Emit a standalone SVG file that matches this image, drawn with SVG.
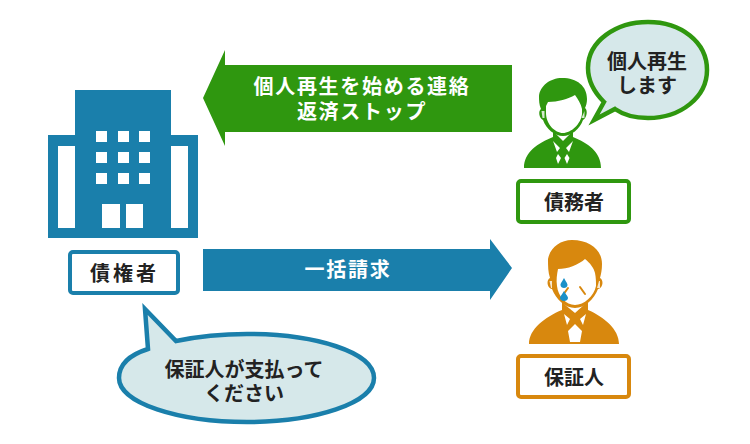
<svg xmlns="http://www.w3.org/2000/svg" width="750" height="444" viewBox="0 0 750 444">
<style>
text{font-family:"Noto Sans CJK JP","Liberation Sans",sans-serif;font-weight:700;text-anchor:middle;fill:#222;font-size:20px}
.arr{fill:#fff;letter-spacing:1.7px}
.box{fill:#fff;stroke-width:4}
.blue{fill:#1a7fab}.green{fill:#2f970f}.orange{fill:#d8880e}.white{fill:#fff}
.bub{fill:#d6e8ea;stroke-width:4.5;stroke-linejoin:miter}
</style>
<g id="connectors">
<path class="green" d="M203 98 225 50V65H512V132H225V146Z"/>
<text class="arr" y="94"><tspan x="362">個人再生を始める連絡</tspan><tspan x="362" dy="25">返済ストップ</tspan></text>
<path class="blue" d="M203 249H490V239L512 268 490 300V291H203Z"/>
<text class="arr" x="348" y="277">一括請求</text>
</g>
<g id="creditor">
<path class="blue" d="M75 90H171V135H198V238H48V135H75Z"/>
<path class="white" d="M58 146H75V228H58ZM171 146H188V228H171ZM102 204H120V228H102ZM126 204H143V228H126Z"/>
<path class="white" d="M96 131h11v11H96ZM118 131h11v11H118ZM139 131h11v11H139ZM96 152h11v11H96ZM118 152h11v11H118ZM139 152h11v11H139ZM96 173h11v11H96ZM118 173h11v11H118ZM139 173h11v11H139Z"/>
<rect class="box" x="70" y="252" width="108" height="41" rx="3" stroke="#1a7fab"/>
<text x="124.500" y="281" style="letter-spacing:3px">債権者</text>
</g>
<g id="creditor-bubble">
<path class="bub" stroke="#1a7fab" d="M145 309 176 341C200 336 225 334 247 334 315 334 374 352 374 378 374 403 315 422 247 422 178 422 119 403 119 378 119 364 129 355 148 349Z"/>
<text y="377"><tspan x="244">保証人が支払って</tspan><tspan x="244" dy="24">ください</tspan></text>
</g>
<g id="debtor">
<path class="green" d="M524 168C524 152 538 143 553 137V130H573V137C588 143 601 152 601 168Z"/>
<path class="white" d="M556 131H570V134L563 141 556 134Z"/>
<path class="white" d="M553 141 560 148 557 152ZM573 141 566 148 569 152ZM558 154 556 158 558 164 561 158ZM567 154 564.500 158 567 164 569.500 158Z"/>
<path class="green" d="M562 78C577 78 587 86 587 99 587 103 586 106 585 108 588 110 587 118 583 120 580 129 571 136 563 136 555 136 546 129 543 120 539 118 538 111 541 109 539 105 539 100 539 96 540 86 550 78 562 78Z"/>
<path class="white" d="M548 102C558 102 568 99 575 95 578 99 581 104 582 109V114C581 124 571 133 563 133 555 133 546 124 546 113V106Z"/>
<path class="white" d="M541.500 111H544.500V118H542.500ZM581.500 118 584.500 111V118Z" opacity=".8"/>
<rect class="box" x="518" y="181" width="111" height="41" rx="3" stroke="#2f970f"/>
<text x="574" y="210">債務者</text>
</g>
<g id="debtor-bubble">
<path class="bub" stroke="#2f970f" d="M594 120 604 102C592 90 588 78 588 68 588 41 616 22 648 22 681 22 707 42 707 70 707 97 681 118 648 118 635 118 625 116 615 109Z"/>
<text y="69"><tspan x="647">個人再生</tspan><tspan x="647" dy="23.500">します</tspan></text>
</g>
<g id="guarantor">
<path class="orange" d="M529 344C529 329 545 317 562 310V300H588V310C604 317 619 329 619 344Z"/>
<path class="white" d="M564 302H585V304L575 313 564 304Z"/>
<path class="white" d="M564 314 570 319 567 325ZM586 314 580 319 583 325ZM575 324 582 331 580 342H570L568 331Z"/>
<path class="orange" d="M572 240C590 240 602 250 602 264 602 270 601 274 600 278 604 280 603 288 598 289 594 299 585 308 575 308 565 308 556 299 552 289 547 288 546 280 550 278 548 272 548 266 548 259 550 248 560 240 572 240Z"/>
<path class="white" d="M558 269C568 269 578 265 585 259 590 263 594 268 595 273 596 278 596 282 596 286 594 296 584 305 575 305 566 305 558 296 557 286 556 280 557 274 558 269Z"/>
<path class="white" d="M549.500 281H552V288H551ZM597 288 599 281H600V288Z" opacity=".8"/>
<path d="M568 288 563 295M580 287 585 294" stroke="#d8880e" stroke-width="2" fill="none" stroke-linecap="round"/>
<path fill="#1a90c8" d="M564 278C566 282 567.500 283 567.500 285 567.500 289 560.500 289 560.500 285 560.500 283 562 282 564 278ZM564 291C566 295 568 296 568 298 568 302 560 302 560 298 560 296 562 295 564 291Z"/>
<rect class="box" x="518" y="356" width="111" height="41" rx="3" stroke="#d8880e"/>
<text x="574" y="385">保証人</text>
</g>
</svg>
